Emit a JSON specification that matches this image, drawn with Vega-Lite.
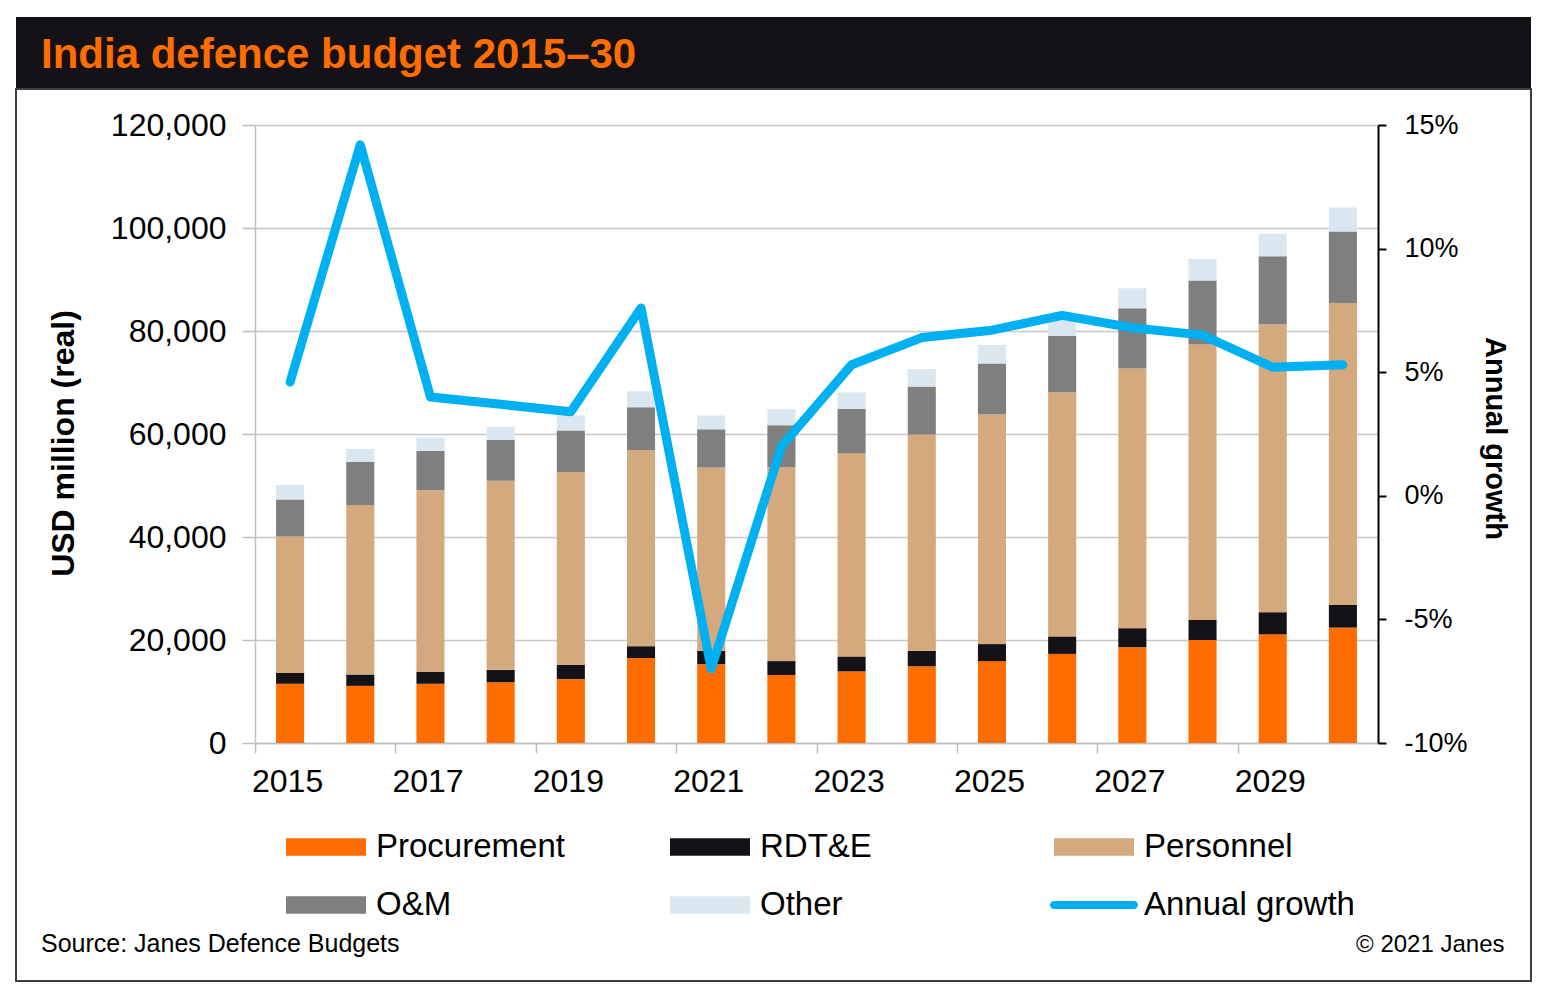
{
  "$schema": "https://vega.github.io/schema/vega-lite/v6.json",
  "background": "white",
  "padding": {"left": 15, "top": 17, "right": 0, "bottom": 0},
  "spacing": 0,
  "datasets": {
    "budget": [
      {"year": 2015, "category": "Procurement", "value": 11500},
      {"year": 2015, "category": "RDT&E", "value": 2100},
      {"year": 2015, "category": "Personnel", "value": 26500},
      {"year": 2015, "category": "O&M", "value": 7200},
      {"year": 2015, "category": "Other", "value": 2800},
      {"year": 2016, "category": "Procurement", "value": 11100},
      {"year": 2016, "category": "RDT&E", "value": 2200},
      {"year": 2016, "category": "Personnel", "value": 32900},
      {"year": 2016, "category": "O&M", "value": 8400},
      {"year": 2016, "category": "Other", "value": 2500},
      {"year": 2017, "category": "Procurement", "value": 11500},
      {"year": 2017, "category": "RDT&E", "value": 2300},
      {"year": 2017, "category": "Personnel", "value": 35300},
      {"year": 2017, "category": "O&M", "value": 7600},
      {"year": 2017, "category": "Other", "value": 2600},
      {"year": 2018, "category": "Procurement", "value": 11800},
      {"year": 2018, "category": "RDT&E", "value": 2400},
      {"year": 2018, "category": "Personnel", "value": 36700},
      {"year": 2018, "category": "O&M", "value": 8000},
      {"year": 2018, "category": "Other", "value": 2500},
      {"year": 2019, "category": "Procurement", "value": 12400},
      {"year": 2019, "category": "RDT&E", "value": 2800},
      {"year": 2019, "category": "Personnel", "value": 37400},
      {"year": 2019, "category": "O&M", "value": 8100},
      {"year": 2019, "category": "Other", "value": 2900},
      {"year": 2020, "category": "Procurement", "value": 16500},
      {"year": 2020, "category": "RDT&E", "value": 2300},
      {"year": 2020, "category": "Personnel", "value": 38100},
      {"year": 2020, "category": "O&M", "value": 8300},
      {"year": 2020, "category": "Other", "value": 3100},
      {"year": 2021, "category": "Procurement", "value": 15300},
      {"year": 2021, "category": "RDT&E", "value": 2600},
      {"year": 2021, "category": "Personnel", "value": 35600},
      {"year": 2021, "category": "O&M", "value": 7400},
      {"year": 2021, "category": "Other", "value": 2700},
      {"year": 2022, "category": "Procurement", "value": 13200},
      {"year": 2022, "category": "RDT&E", "value": 2700},
      {"year": 2022, "category": "Personnel", "value": 37700},
      {"year": 2022, "category": "O&M", "value": 8100},
      {"year": 2022, "category": "Other", "value": 3100},
      {"year": 2023, "category": "Procurement", "value": 13900},
      {"year": 2023, "category": "RDT&E", "value": 2900},
      {"year": 2023, "category": "Personnel", "value": 39500},
      {"year": 2023, "category": "O&M", "value": 8600},
      {"year": 2023, "category": "Other", "value": 3200},
      {"year": 2024, "category": "Procurement", "value": 14900},
      {"year": 2024, "category": "RDT&E", "value": 3000},
      {"year": 2024, "category": "Personnel", "value": 42000},
      {"year": 2024, "category": "O&M", "value": 9300},
      {"year": 2024, "category": "Other", "value": 3400},
      {"year": 2025, "category": "Procurement", "value": 15900},
      {"year": 2025, "category": "RDT&E", "value": 3300},
      {"year": 2025, "category": "Personnel", "value": 44600},
      {"year": 2025, "category": "O&M", "value": 9900},
      {"year": 2025, "category": "Other", "value": 3600},
      {"year": 2026, "category": "Procurement", "value": 17300},
      {"year": 2026, "category": "RDT&E", "value": 3400},
      {"year": 2026, "category": "Personnel", "value": 47400},
      {"year": 2026, "category": "O&M", "value": 11000},
      {"year": 2026, "category": "Other", "value": 3500},
      {"year": 2027, "category": "Procurement", "value": 18600},
      {"year": 2027, "category": "RDT&E", "value": 3700},
      {"year": 2027, "category": "Personnel", "value": 50400},
      {"year": 2027, "category": "O&M", "value": 11700},
      {"year": 2027, "category": "Other", "value": 3900},
      {"year": 2028, "category": "Procurement", "value": 20000},
      {"year": 2028, "category": "RDT&E", "value": 3900},
      {"year": 2028, "category": "Personnel", "value": 53500},
      {"year": 2028, "category": "O&M", "value": 12400},
      {"year": 2028, "category": "Other", "value": 4200},
      {"year": 2029, "category": "Procurement", "value": 21100},
      {"year": 2029, "category": "RDT&E", "value": 4300},
      {"year": 2029, "category": "Personnel", "value": 55900},
      {"year": 2029, "category": "O&M", "value": 13200},
      {"year": 2029, "category": "Other", "value": 4400},
      {"year": 2030, "category": "Procurement", "value": 22400},
      {"year": 2030, "category": "RDT&E", "value": 4400},
      {"year": 2030, "category": "Personnel", "value": 58600},
      {"year": 2030, "category": "O&M", "value": 13900},
      {"year": 2030, "category": "Other", "value": 4700}
    ],
    "growth": [
      {"year": 2015, "category": "Annual growth", "growth": 4.6},
      {"year": 2016, "category": "Annual growth", "growth": 14.2},
      {"year": 2017, "category": "Annual growth", "growth": 4.0},
      {"year": 2018, "category": "Annual growth", "growth": 3.7},
      {"year": 2019, "category": "Annual growth", "growth": 3.4},
      {"year": 2020, "category": "Annual growth", "growth": 7.6},
      {"year": 2021, "category": "Annual growth", "growth": -7.0},
      {"year": 2022, "category": "Annual growth", "growth": 2.0},
      {"year": 2023, "category": "Annual growth", "growth": 5.3},
      {"year": 2024, "category": "Annual growth", "growth": 6.4},
      {"year": 2025, "category": "Annual growth", "growth": 6.7},
      {"year": 2026, "category": "Annual growth", "growth": 7.3},
      {"year": 2027, "category": "Annual growth", "growth": 6.8},
      {"year": 2028, "category": "Annual growth", "growth": 6.5},
      {"year": 2029, "category": "Annual growth", "growth": 5.2},
      {"year": 2030, "category": "Annual growth", "growth": 5.3}
    ],
    "header": [{"name": "header"}]
  },
  "vconcat": [
    {
      "width": 1515,
      "height": 71,
      "view": {"fill": "#141217", "stroke": null},
      "data": {"name": "header"},
      "title": {
        "text": "India defence budget 2015–30",
        "orient": "top",
        "anchor": "start",
        "frame": "group",
        "offset": -60,
        "dx": 25,
        "font": "Liberation Sans",
        "fontSize": 42,
        "fontWeight": "bold",
        "color": "#FF6D00"
      },
      "mark": {"type": "point", "opacity": 0}
    },
    {
      "width": 1515,
      "height": 892,
      "view": {"stroke": "#404040", "strokeWidth": 2},
      "title": {
        "text": "Source: Janes Defence Budgets",
        "orient": "bottom",
        "anchor": "start",
        "frame": "group",
        "offset": -49,
        "dx": 25,
        "font": "Liberation Sans",
        "fontSize": 25,
        "fontWeight": "normal",
        "color": "#000000"
      },
      "encoding": {
        "x": {
          "field": "year",
          "type": "ordinal",
          "scale": {"range": [239, 1362], "paddingInner": 0.6, "paddingOuter": 0.3},
          "axis": {
            "orient": "bottom",
            "offset": -238,
            "values": [2015, 2017, 2019, 2021, 2023, 2025, 2027, 2029],
            "bandPosition": 0,
            "tickOffset": -21,
            "labelOffset": 18,
            "labelAngle": 0,
            "labelFont": "Liberation Sans",
            "labelFontSize": 32,
            "labelColor": "#000000",
            "labelPadding": 13,
            "tickSize": 10,
            "tickColor": "#bfbfbf",
            "tickWidth": 1.5,
            "domainColor": "#bfbfbf",
            "domainWidth": 1.5,
            "grid": false,
            "title": "© 2021 Janes",
            "titleX": 1488,
            "titleY": 208,
            "titleAlign": "right",
            "titleBaseline": "alphabetic",
            "titleAngle": 0,
            "titleFont": "Liberation Sans",
            "titleFontSize": 24,
            "titleFontWeight": "normal",
            "titleColor": "#000000"
          }
        }
      },
      "layer": [
        {
          "data": {"name": "budget"},
          "transform": [
            {"calculate": "indexof(['Procurement', 'RDT&E', 'Personnel', 'O&M', 'Other'], datum.category)", "as": "stackOrder"}
          ],
          "mark": {"type": "bar"},
          "encoding": {
            "y": {
              "field": "value",
              "type": "quantitative",
              "stack": "zero",
              "scale": {"domain": [0, 120000], "range": [654, 36], "nice": false},
              "axis": {
                "orient": "left",
                "offset": -239,
                "values": [0, 20000, 40000, 60000, 80000, 100000, 120000],
                "format": ",d",
                "labelFont": "Liberation Sans",
                "labelFontSize": 32,
                "labelColor": "#000000",
                "labelPadding": 16,
                "tickSize": 13,
                "tickColor": "#bfbfbf",
                "tickWidth": 1.5,
                "domainColor": "#bfbfbf",
                "domainWidth": 1.5,
                "grid": true,
                "gridColor": "#c8c8c8",
                "gridWidth": 1.5,
                "title": "USD million (real)",
                "titleFont": "Liberation Sans",
                "titleFontSize": 32,
                "titleFontWeight": "bold",
                "titleColor": "#000000",
                "titleAngle": -90,
                "titleX": -192,
                "titleY": 354,
                "titleAlign": "center",
                "titleBaseline": "middle"
              }
            },
            "order": {"field": "stackOrder", "type": "quantitative", "sort": "ascending"},
            "color": {
              "field": "category",
              "type": "nominal",
              "sort": ["Procurement", "RDT&E", "Personnel", "O&M", "Other", "Annual growth"],
              "scale": {
                "domain": ["Procurement", "RDT&E", "Personnel", "O&M", "Other", "Annual growth"],
                "range": ["#FF6D00", "#141217", "#D4A97E", "#7F7F7F", "#DAE7F1", "#00B0F0"]
              },
              "legend": {
                "orient": "none",
                "legendX": 270,
                "legendY": 790,
                "direction": "horizontal",
                "columns": 3,
                "gridAlign": "all",
                "title": null,
                "padding": 0,
                "symbolType": {"expr": "datum.value === 'Annual growth' ? 'M-1,-0.1L1,-0.1A0.1,0.1,0,0,1,1,0.1L-1,0.1A0.1,0.1,0,0,1,-1,-0.1Z' : 'M-1,-0.22L1,-0.22L1,0.22L-1,0.22Z'"},
                "symbolSize": 6400,
                "symbolStrokeWidth": 0,
                "symbolOpacity": 1,
                "labelFont": "Liberation Sans",
                "labelFontSize": 33,
                "labelColor": "#000000",
                "labelOffset": 10,
                "labelLimit": 400,
                "columnPadding": 79,
                "rowPadding": 1
              }
            }
          }
        },
        {
          "data": {"name": "growth"},
          "mark": {"type": "line", "strokeWidth": 9, "strokeCap": "round", "strokeJoin": "round"},
          "encoding": {
            "y": {
              "field": "growth",
              "type": "quantitative",
              "scale": {"domain": [-10, 15], "range": [654, 36], "nice": false, "zero": false},
              "axis": {
                "orient": "right",
                "offset": -153,
                "values": [-10, -5, 0, 5, 10, 15],
                "labelExpr": "datum.value + '%'",
                "labelFont": "Liberation Sans",
                "labelFontSize": 27,
                "labelColor": "#000000",
                "labelPadding": 18,
                "tickSize": 8,
                "tickColor": "#000000",
                "tickWidth": 2,
                "domainColor": "#000000",
                "domainWidth": 2,
                "grid": false,
                "title": "Annual growth",
                "titleFont": "Liberation Sans",
                "titleFontSize": 29,
                "titleFontWeight": "bold",
                "titleColor": "#000000",
                "titleAngle": 90,
                "titleX": 116,
                "titleY": 349,
                "titleAlign": "center",
                "titleBaseline": "middle"
              }
            },
            "color": {"field": "category", "type": "nominal"}
          }
        }
      ],
      "resolve": {"scale": {"y": "independent"}}
    }
  ]
}
